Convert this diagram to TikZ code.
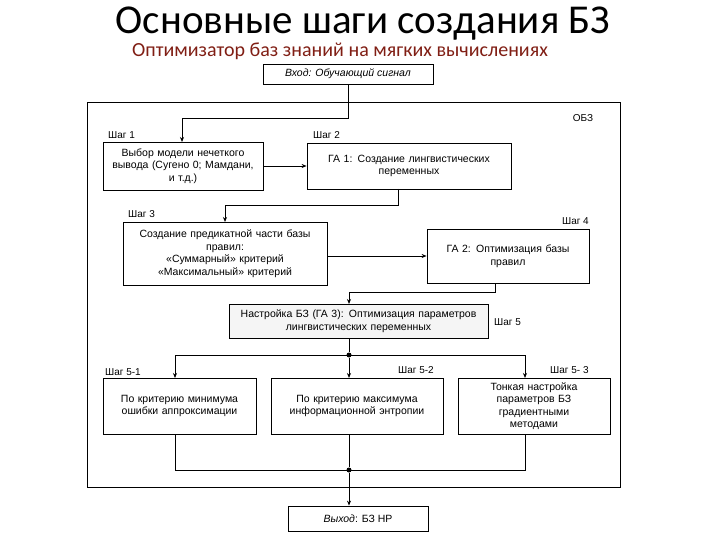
\documentclass[tikz,border=0pt]{standalone}
\usepackage{fontspec}
\setmainfont{Liberation Sans}
\newfontfamily\titlefont{Carlito}
\usetikzlibrary{arrows.meta}
\begin{document}
\begin{tikzpicture}[x=1pt,y=-1pt,
  box/.style={draw,line width=0.8pt,align=center,font=\fontsize{10.5}{12.5}\selectfont,inner sep=1pt},
  lbl/.style={font=\fontsize{10}{11}\selectfont,inner sep=0pt},
  arr/.style={line width=0.8pt,-{Stealth[length=5pt,width=4pt]}},
  ln/.style={line width=0.8pt},
  dot/.style={circle,fill,inner sep=0pt,minimum size=5pt}]
\useasboundingbox (0,0) rectangle (720,540);
\node (title) at (363,24) {\titlefont\fontsize{41}{43}\selectfont Основные шаги создания БЗ};
\node[text={rgb,255:red,128;green,30;blue,20}] (sub) at (340,51) {\titlefont\fontsize{20}{22}\selectfont Оптимизатор баз знаний на мягких вычислениях};
\node[box,minimum width=170pt,minimum height=20pt] (in) at (348,74) {\textit{Вход: Обучающий сигнал}};
\node[draw,line width=0.8pt,minimum width=533pt,minimum height=385pt,inner sep=0pt] (obz) at (353.5,294.5) {};
\node[lbl] (obzl) at (583,118) {ОБЗ};
\node[box,minimum width=160pt,minimum height=48pt,text width=155pt] (b1) at (183,166) {Выбор модели нечеткого\\вывода (Сугено 0; Мамдани,\\и т.д.)};
\node[box,minimum width=204pt,minimum height=46pt,text width=200pt] (b2) at (409,166) {ГА 1: Создание лингвистических\\переменных};
\node[box,minimum width=204pt,minimum height=63pt,text width=200pt] (b3) at (225,253.5) {Создание предикатной части базы\\правил:\\«Суммарный» критерий\\«Максимальный» критерий};
\node[box,minimum width=162pt,minimum height=54pt,text width=158pt] (b4) at (508,256) {ГА 2: Оптимизация базы\\правил};
\node[box,fill=gray!8,minimum width=259pt,minimum height=34pt,text width=255pt] (b5) at (358.5,321) {Настройка БЗ (ГА 3): Оптимизация параметров\\лингвистических переменных};
\node[box,minimum width=153pt,minimum height=56pt,text width=149pt] (b6) at (179.5,406) {По критерию минимума\\ошибки аппроксимации};
\node[box,minimum width=172pt,minimum height=56pt,text width=168pt] (b7) at (357,406) {По критерию максимума\\информационной энтропии};
\node[box,minimum width=152pt,minimum height=56pt,text width=148pt] (b8) at (534,406) {Тонкая настройка\\параметров БЗ\\градиентными\\методами};
\node[box,minimum width=140pt,minimum height=25pt] (out) at (358,518.5) {\textit{Выход}: БЗ НР};
\node[lbl,anchor=west] (s1) at (108,135) {Шаг 1};
\node[lbl,anchor=west] (s2) at (313,135) {Шаг 2};
\node[lbl,anchor=west] (s3) at (128,214) {Шаг 3};
\node[lbl,anchor=east] (s4) at (589,221) {Шаг 4};
\node[lbl,anchor=west] (s5) at (494,322) {Шаг 5};
\node[lbl,anchor=west] (s51) at (105,372) {Шаг 5-1};
\node[lbl,anchor=west] (s52) at (398,370) {Шаг 5-2};
\node[lbl,anchor=west] (s53) at (550,370) {Шаг 5- 3};
\node[dot] (j1) at (349,355) {};
\node[dot] (j2) at (349,470) {};
\draw[arr] (in.south) |- (182,118) -- (182,142);
\draw[arr] (b1.east) -- (b2.west);
\draw[arr] (398,189) |- (225,205) -- (225,222);
\draw[arr] (b3.east |- b4.west) -- (b4.west);
\draw[arr] (495,283) |- (349,292) -- (349,304);
\draw[ln] (349,338) -- (j1);
\draw[ln] (175,355) -- (525,355);
\draw[arr] (175,355) -- (175,378);
\draw[arr] (j1) -- (349,378);
\draw[arr] (525,355) -- (525,378);
\draw[ln] (175,434) |- (525,470) -- (525,434);
\draw[ln] (349,434) -- (j2);
\draw[arr] (j2) -- (j2 |- out.north);
\end{tikzpicture}
\end{document}
